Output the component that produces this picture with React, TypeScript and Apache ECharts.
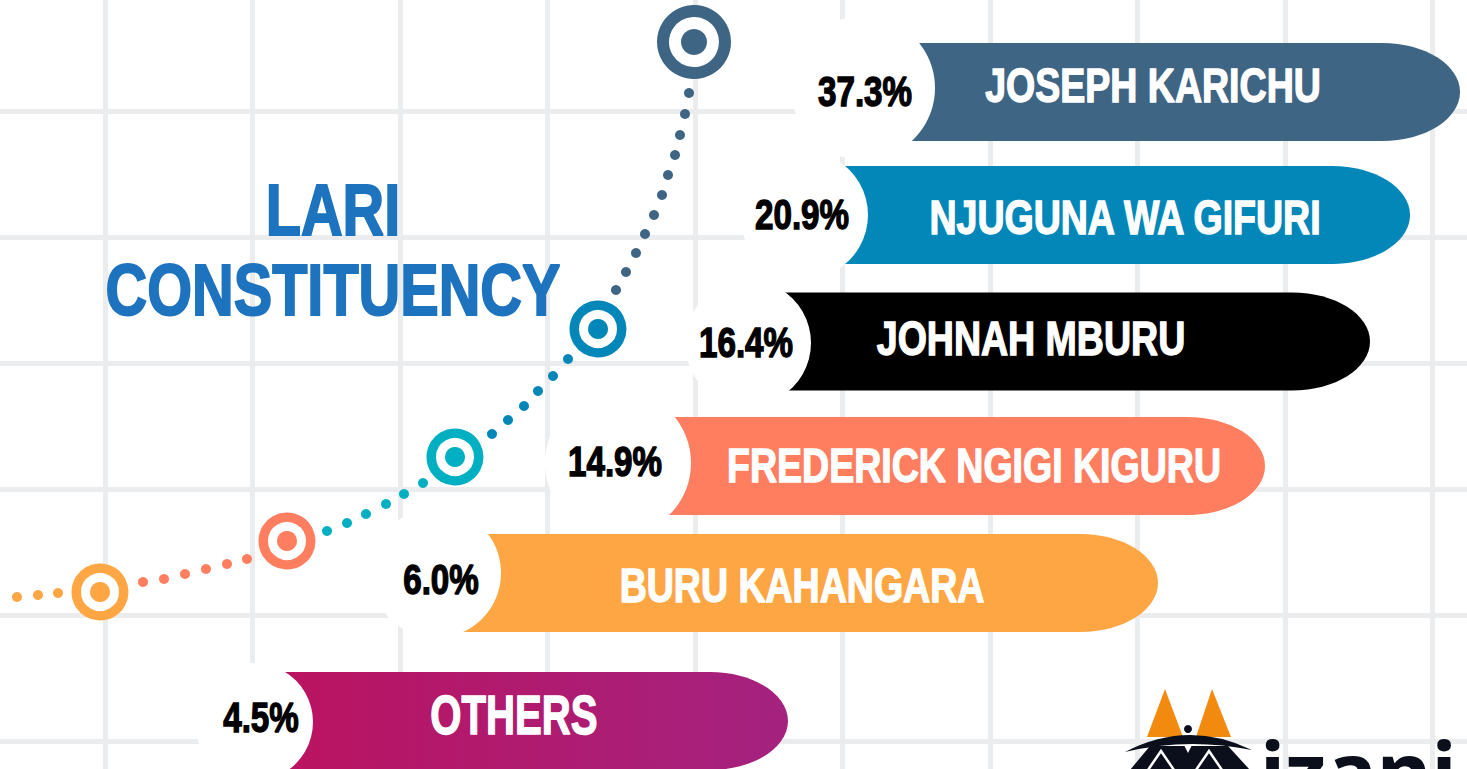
import React, { useEffect, useRef } from 'react';
import * as echarts from 'echarts';

// ---------- data ----------
const candidates = [
  'JOSEPH KARICHU',
  'NJUGUNA WA GIFURI',
  'JOHNAH MBURU',
  'FREDERICK NGIGI KIGURU',
  'BURU KAHANGARA',
  'OTHERS',
];
const shares = [37.3, 20.9, 16.4, 14.9, 6.0, 4.5];
const titleLines = ['LARI', 'CONSTITUENCY'];

// ---------- styles ----------
const barColors = ['#3e6583', '#0287b8', '#000000', '#ff7e5f', '#ffa644', '#bb1360'];
const othersGradientEnd = '#a4227f';
const ringColors = ['#3e6583', '#0287b8', '#00afc1', '#ff7e5f', '#ffa644'];
const dotColors = ['#3e6583', '#0287b8', '#00afc1', '#ff7e5f', '#ffa644'];
const FONT = "'Liberation Sans', Arial, sans-serif";
const NARROW = 0.79;

// ---------- layout (canvas units, 1467 x 769) ----------
const rowCenterY = [92, 215, 341.5, 466, 583, 721];
const barHalfHeight = 49;
const barRightX = [1460, 1410, 1370, 1265, 1158, 788];
const capRx = 78;
const cutCenterX = [863, 804, 748, 618, 436, 254];
const cutCenterY = [88, 215, 343, 463, 573, 722];
const cutRadius = [72, 64, 63, 73, 65, 59];
const shareLabelX = [865, 802, 746, 615, 441, 261];
const shareLabelY = [92, 215, 343, 462, 580, 718];
const nameLabelX = [1153, 1125, 1031, 974, 802, 514];
const nameLabelY = [85, 217, 338, 465, 585, 715];
const nameFontSize = [47.5, 47.5, 47.5, 47.5, 47.5, 55];
const nameScaleX = [NARROW, NARROW, NARROW, NARROW, NARROW, 0.73];

const ringX = [694, 598, 455, 287, 100];
const ringY = [42, 329, 457, 541, 592];
const ringOuterR = [37, 28.5, 28.5, 28.5, 28.5];
const ringInnerR = [25, 19, 19, 19, 19];
const ringDotR = [13, 10, 10, 10, 10];

const dotsSteel = [[689, 93], [685, 114], [680, 135], [675, 155], [668, 175], [662, 195], [654, 215], [645, 234], [636, 253], [626, 272], [616, 290]];
const dotsBlue = [[568, 359], [553, 376], [538, 391], [524, 406], [508, 420], [492, 434]];
const dotsTeal = [[423, 483], [404, 494], [386, 504], [366, 514], [347, 523], [327, 531]];
const dotsCoral = [[247, 559], [227, 564], [206, 569], [185, 574], [164, 579], [143, 582]];
const dotsOrange = [[58, 593], [38, 595], [17, 597]];
const dotSegments = [dotsSteel, dotsBlue, dotsTeal, dotsCoral, dotsOrange];

const W = 1467;
const H = 769;
const GRID_STEP_X = 147.5;
const GRID_STEP_Y = 126;

// logo arc shape
echarts.graphic.registerShape(
  'logoArc',
  echarts.graphic.extendPath('M1125 752 Q1188 719 1252 750 Q1188 737 1125 752 Z', {})
);

function barPath(left: number, right: number, top: number, bottom: number, rx: number) {
  const k = 0.5523;
  const cy = (top + bottom) / 2;
  const ry = (bottom - top) / 2;
  const sx = right - rx;
  return [
    `M${left} ${top}`,
    `L${sx} ${top}`,
    `C${sx + k * rx} ${top} ${right} ${cy - k * ry} ${right} ${cy}`,
    `C${right} ${cy + k * ry} ${sx + k * rx} ${bottom} ${sx} ${bottom}`,
    `L${left} ${bottom}`,
    'Z',
  ].join(' ');
}

export default function App() {
  const ref = useRef<HTMLDivElement>(null);

  useEffect(() => {
    if (!ref.current) return;
    const chart = echarts.init(ref.current, null, { renderer: 'svg' });

    const renderBar = (params: any, api: any) => {
      const i = api.value(0);
      const tl = api.coord([cutCenterX[i] + 15, rowCenterY[i] - barHalfHeight]);
      const br = api.coord([barRightX[i], rowCenterY[i] + barHalfHeight]);
      const capEnd = api.coord([barRightX[i] - capRx, rowCenterY[i]]);
      const rx = br[0] - capEnd[0];
      const fill =
        i === candidates.length - 1
          ? new echarts.graphic.LinearGradient(0, 0, 1, 0, [
              { offset: 0, color: barColors[i] },
              { offset: 1, color: othersGradientEnd },
            ])
          : barColors[i];
      const cut = api.coord([cutCenterX[i], cutCenterY[i]]);
      const cutEdge = api.coord([cutCenterX[i] + cutRadius[i], cutCenterY[i]]);
      const pct = api.coord([shareLabelX[i], shareLabelY[i]]);
      const nm = api.coord([nameLabelX[i], nameLabelY[i]]);
      return {
        type: 'group',
        children: [
          { type: 'path', shape: { pathData: barPath(tl[0], br[0], tl[1], br[1], rx) }, style: { fill } },
          { type: 'circle', shape: { cx: cut[0], cy: cut[1], r: cutEdge[0] - cut[0] }, style: { fill: '#ffffff' } },
          {
            type: 'text',
            x: pct[0],
            y: pct[1],
            scaleX: NARROW,
            style: {
              text: shares[i].toFixed(1) + '%',
              fill: '#000000',
              stroke: '#000000',
              lineWidth: 1.4,
              fontSize: 42,
              fontWeight: 'bold',
              fontFamily: FONT,
              align: 'center',
              verticalAlign: 'middle',
            },
          },
          {
            type: 'text',
            x: nm[0],
            y: nm[1],
            scaleX: nameScaleX[i],
            style: {
              text: candidates[i],
              fill: '#ffffff',
              stroke: '#ffffff',
              lineWidth: 1.4,
              fontSize: nameFontSize[i],
              fontWeight: 'bold',
              fontFamily: FONT,
              align: 'center',
              verticalAlign: 'middle',
            },
          },
        ],
      };
    };

    const dotSeries = dotSegments.map((seg, s) => ({
      type: 'scatter',
      xAxisIndex: 0,
      yAxisIndex: 0,
      symbol: 'circle',
      symbolSize: 10,
      silent: true,
      z: 3,
      itemStyle: { color: dotColors[s], opacity: 1 },
      data: seg,
    }));

    const titleText = (text: string, y: number) => ({
      type: 'text',
      z: 10,
      x: 333,
      y,
      scaleX: NARROW,
      style: {
        text,
        fill: '#1e73be',
        stroke: '#1e73be',
        lineWidth: 2,
        fontSize: 73,
        fontWeight: 'bold',
        fontFamily: FONT,
        align: 'center',
        verticalAlign: 'middle',
      },
    });

    const option: any = {
      animation: false,
      backgroundColor: '#ffffff',
      grid: [
        { left: 0, top: 0, width: W, height: H, show: false, outerBoundsMode: 'none', containLabel: false },
        {
          left: 105 - GRID_STEP_X,
          top: 111 - GRID_STEP_Y,
          width: GRID_STEP_X * 11,
          height: GRID_STEP_Y * 7,
          show: false,
          outerBoundsMode: 'none',
          containLabel: false,
        },
      ],
      xAxis: [
        { type: 'value', gridIndex: 0, min: 0, max: W, show: false },
        {
          type: 'value',
          gridIndex: 1,
          min: 0,
          max: 11,
          interval: 1,
          axisLine: { show: false },
          axisTick: { show: false },
          axisLabel: { show: false },
          splitLine: { show: true, lineStyle: { color: '#ebecee', width: 5 } },
        },
      ],
      yAxis: [
        { type: 'value', gridIndex: 0, min: 0, max: H, inverse: true, show: false },
        {
          type: 'value',
          gridIndex: 1,
          min: 0,
          max: 7,
          interval: 1,
          axisLine: { show: false },
          axisTick: { show: false },
          axisLabel: { show: false },
          splitLine: { show: true, lineStyle: { color: '#ebecee', width: 5 } },
        },
      ],
      graphic: [
        titleText(titleLines[0], 209.5),
        titleText(titleLines[1], 289.5),
        // logo
        { type: 'polygon', z: 10, shape: { points: [[1165, 689], [1147, 737], [1183, 737]] }, style: { fill: '#f28a10' } },
        { type: 'polygon', z: 10, shape: { points: [[1212, 689], [1196, 737], [1231, 737]] }, style: { fill: '#f28a10' } },
        { type: 'logoArc', z: 11, x: 0, y: 0, scaleX: 1, scaleY: 1, style: { fill: '#0b0f1c' } },
        { type: 'circle', z: 11, shape: { cx: 1188, cy: 729, r: 4 }, style: { fill: '#0b0f1c' } },
        { type: 'polygon', z: 11, shape: { points: [[1130, 770], [1150, 746], [1228, 746], [1250, 770]] }, style: { fill: '#0b0f1c' } },
        { type: 'polyline', z: 12, shape: { points: [[1148, 770], [1161, 751], [1174, 770]] }, style: { stroke: '#ffffff', lineWidth: 2.5, fill: 'none' } },
        { type: 'polyline', z: 12, shape: { points: [[1196, 770], [1209, 751], [1222, 770]] }, style: { stroke: '#ffffff', lineWidth: 2.5, fill: 'none' } },
        { type: 'polygon', z: 12, shape: { points: [[1184, 745], [1192, 745], [1188, 753]] }, style: { fill: '#ffffff' } },
        {
          type: 'text',
          z: 11,
          x: 1260,
          y: 770,
          style: {
            text: 'izani',
            fill: '#0b0f1c',
            fontSize: 84,
            fontWeight: 'bold',
            fontFamily: "'Noto Sans', 'DejaVu Sans', sans-serif",
            align: 'left',
            verticalAlign: 'middle',
          },
        },
      ],
      series: [
        ...dotSeries,
        {
          type: 'scatter',
          name: 'ringOuter',
          xAxisIndex: 0,
          yAxisIndex: 0,
          symbol: 'circle',
          silent: true,
          z: 4,
          data: ringX.map((x, i) => ({
            value: [x, ringY[i]],
            symbolSize: ringOuterR[i] + ringInnerR[i],
            itemStyle: {
              color: '#ffffff',
              opacity: 1,
              borderColor: ringColors[i],
              borderWidth: ringOuterR[i] - ringInnerR[i],
            },
          })),
        },
        {
          type: 'scatter',
          name: 'ringDot',
          xAxisIndex: 0,
          yAxisIndex: 0,
          symbol: 'circle',
          silent: true,
          z: 5,
          data: ringX.map((x, i) => ({
            value: [x, ringY[i]],
            symbolSize: ringDotR[i] * 2,
            itemStyle: { color: ringColors[i], opacity: 1 },
          })),
        },
        {
          type: 'custom',
          name: 'candidates',
          xAxisIndex: 0,
          yAxisIndex: 0,
          silent: true,
          z: 6,
          renderItem: renderBar,
          data: candidates.map((c, i) => [i, shares[i]]),
        },
      ],
    };

    chart.setOption(option);
    return () => chart.dispose();
  }, []);

  return (
    <div
      ref={ref}
      style={{ position: 'absolute', left: 0, top: 0, width: W, height: H, background: '#ffffff' }}
    />
  );
}
